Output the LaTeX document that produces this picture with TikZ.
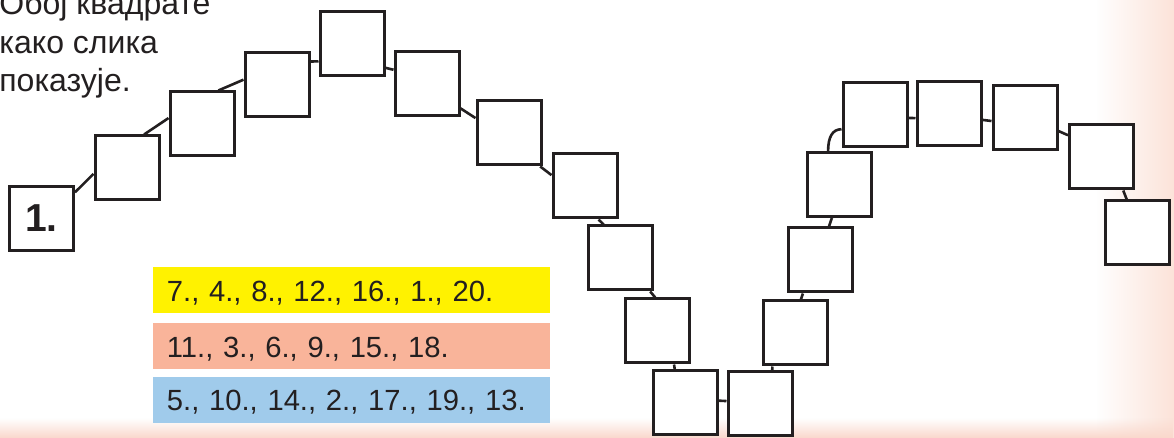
\documentclass[tikz,border=0pt]{standalone}
\usepackage{fontspec}
\setmainfont{Liberation Sans}
\usepackage{xcolor}
\usetikzlibrary{positioning, fadings}
\definecolor{ink}{HTML}{231F20}
\definecolor{ylw}{HTML}{FFF200}
\definecolor{sal}{HTML}{F9B49A}
\definecolor{blu}{HTML}{A0CBEB}
\definecolor{edgeside}{HTML}{FCE3D9}
\definecolor{edgefoot}{HTML}{FAD8CC}
\tikzfading[name=rise east, left color=transparent!100, right color=transparent!0]
\tikzfading[name=rise south, top color=transparent!100, bottom color=transparent!0]
\tikzset{
  sq/.style={rectangle, draw=ink, fill=white, line width=1.5pt,
    minimum size=32pt, inner sep=0pt},
  link/.style={draw=ink, line width=1.3pt},
  band/.style={rectangle, minimum width=198.5pt, minimum height=23pt,
    text width=185pt, inner xsep=6.5pt, inner ysep=0pt, align=left,
    text height=13pt, text depth=2pt, text=ink,
    font=\fontsize{14.6}{17}\selectfont},
  task/.style={inner sep=0pt, anchor=base west, text=ink,
    font=\fontsize{16}{19}\selectfont}
}

\begin{document}
\begin{tikzpicture}[x=0.5pt, y=-0.5pt]
  \useasboundingbox (0,0) rectangle (1174,438);
  \clip (0,0) rectangle (1174,438);
  \fill[white] (0,0) rectangle (1174,438);
  % pink page edge
  \fill[edgeside, path fading=rise east] (1096,0) rectangle (1174,438);
  \fill[edgefoot, path fading=rise south] (0,418) rectangle (1174,438);

  \node[task] (l1) at (-1,15) {Обој квадрате};
  \node[task] (l2) at (-1,53.5) {како слика};
  \node[task] (l3) at (-1,92) {показује.};

  \node[sq, font=\bfseries\fontsize{19.5}{20}\selectfont, text=ink] (q1) at (41.5,218.5) {1.};
  \node[sq] (q2) at (127,168) {};
  \node[sq] (q3) at (202,124) {};
  \node[sq] (q4) at (277,85) {};
  \node[sq] (q5) at (352,43.5) {};
  \node[sq] (q6) at (427,84) {};
  \node[sq] (q7) at (509,133) {};
  \node[sq] (q8) at (585,186) {};
  \node[sq] (q9) at (620,258) {};
  \node[sq] (q10) at (657,331) {};
  \node[sq] (q11) at (685,403) {};
  \node[sq] (q12) at (760,404) {};
  \node[sq] (q13) at (795,333) {};
  \node[sq] (q14) at (820,260) {};
  \node[sq] (q15) at (839,184.5) {};
  \node[sq] (q16) at (875,115) {};
  \node[sq] (q17) at (949,114) {};
  \node[sq] (q18) at (1025,117.5) {};
  \node[sq] (q19) at (1101.5,157) {};
  \node[sq] (q20) at (1137,233) {};

  \draw[link] (q1.38) -- (q2.190);
  \draw[link] (q2.63) -- (q3.170);
  \draw[link] (q3.64) -- (q4.171);
  \draw[link] (q4.35) -- (q5.208);
  \draw[link] (q5.-36) -- (q6.157);
  \draw[link] (q6.-36) -- (q7.156);
  \draw[link] (q7.-47) -- (q8.162);
  \draw[link] (q8.-68) -- (q9.116);
  \draw[link] (q9.-48) -- (q10.93);
  \draw[link] (q10.-63) -- (q11.107);
  \draw[link] (q11.4) -- (q12.175);
  \draw[link] (q12.70) -- (q13.236);
  \draw[link] (q13.80) -- (q14.243);
  \draw[link] (q14.75) -- (q15.258);
  \draw[link] (q15.108) .. controls +(0,-14) and +(-9,0) .. (q16.203);
  \draw[link] (q16.-5) -- (q17.187);
  \draw[link] (q17.-10) -- (q18.186);
  \draw[link] (q18.-22) -- (q19.147);
  \draw[link] (q19.-57) -- (q20.107);

  \node[band, fill=ylw, anchor=north west] (ylwbar) at (153,267) {7., 4., 8., 12., 16., 1., 20.};
  \node[band, fill=sal, below=4.5pt of ylwbar] (salbar) {11., 3., 6., 9., 15., 18.};
  \node[band, fill=blu, below=3.5pt of salbar] (blubar) {5., 10., 14., 2., 17., 19., 13.};
\end{tikzpicture}
\end{document}
